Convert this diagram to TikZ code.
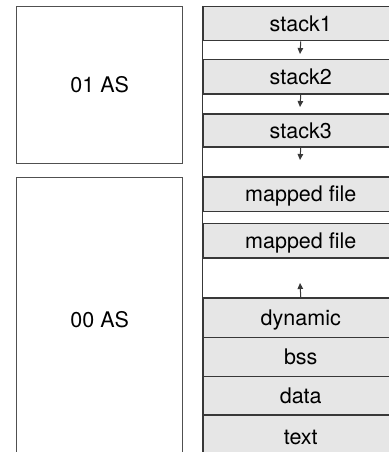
\documentclass[tikz,border=0pt]{standalone}
\usepackage{fontspec}
\setmainfont{TeX Gyre Heros}
\usetikzlibrary{arrows.meta}
\definecolor{segfill}{HTML}{E6E6E6}
\definecolor{ln}{HTML}{383838}
\definecolor{asln}{HTML}{505050}
\begin{document}
\begin{tikzpicture}[x=1pt,y=-1pt,
  seg/.style={draw=ln, line width=1.5pt, fill=segfill, minimum width=195pt,
    anchor=north west, inner sep=0pt, text height=15.5pt, text depth=0pt,
    font=\fontsize{21.5}{25}\selectfont},
  asbox/.style={draw=asln, line width=1.3pt, fill=white, minimum width=166pt,
    anchor=north west, inner sep=0pt, text height=15.5pt, text depth=0pt,
    font=\fontsize{21.5}{25}\selectfont},
  arr/.style={-{Triangle[length=6pt,width=5.5pt]}, line width=1pt, draw=ln}]
\useasboundingbox (0,0) rectangle (388,452);
% left address-space boxes
\node[asbox, minimum height=157pt] (as1) at (16,6) {01 AS};
\node[asbox, minimum height=285pt] (as0) at (16,177) {00 AS};
% right column segments
\node[seg, minimum height=34pt]   (s1)  at (202.5,6)     {stack1};
\node[seg, minimum height=34.3pt] (s2)  at (202.5,59)    {stack2};
\node[seg, minimum height=32.7pt] (s3)  at (202.5,113.3) {stack3};
\node[seg, minimum height=34.7pt] (m1)  at (202.5,176)   {mapped file};
\node[seg, minimum height=34.3pt] (m2)  at (202.5,222.7) {mapped file};
\node[seg, minimum height=39.7pt] (dy)  at (202.5,297)   {dynamic};
\node[seg, minimum height=39pt]   (bss) at (202.5,336.7) {bss};
\node[seg, minimum height=38.6pt] (dat) at (202.5,375.7) {data};
\node[seg, minimum height=44pt]   (txt) at (202.5,414.3) {text};
% left edge of the column
\coordinate (colbot) at (202.5,460);
\draw[ln, line width=1.5pt] (s1.north west) -- (colbot);
% growth arrows
\coordinate (a1) at (300,54);
\coordinate (a2) at (300,107);
\coordinate (a3) at (300,160);
\coordinate (a4) at (300,283);
\draw[arr] (s1.south) -- (a1);
\draw[arr] (s2.south) -- (a2);
\draw[arr] (s3.south) -- (a3);
\draw[arr] (dy.north) -- (a4);
\end{tikzpicture}
\end{document}
